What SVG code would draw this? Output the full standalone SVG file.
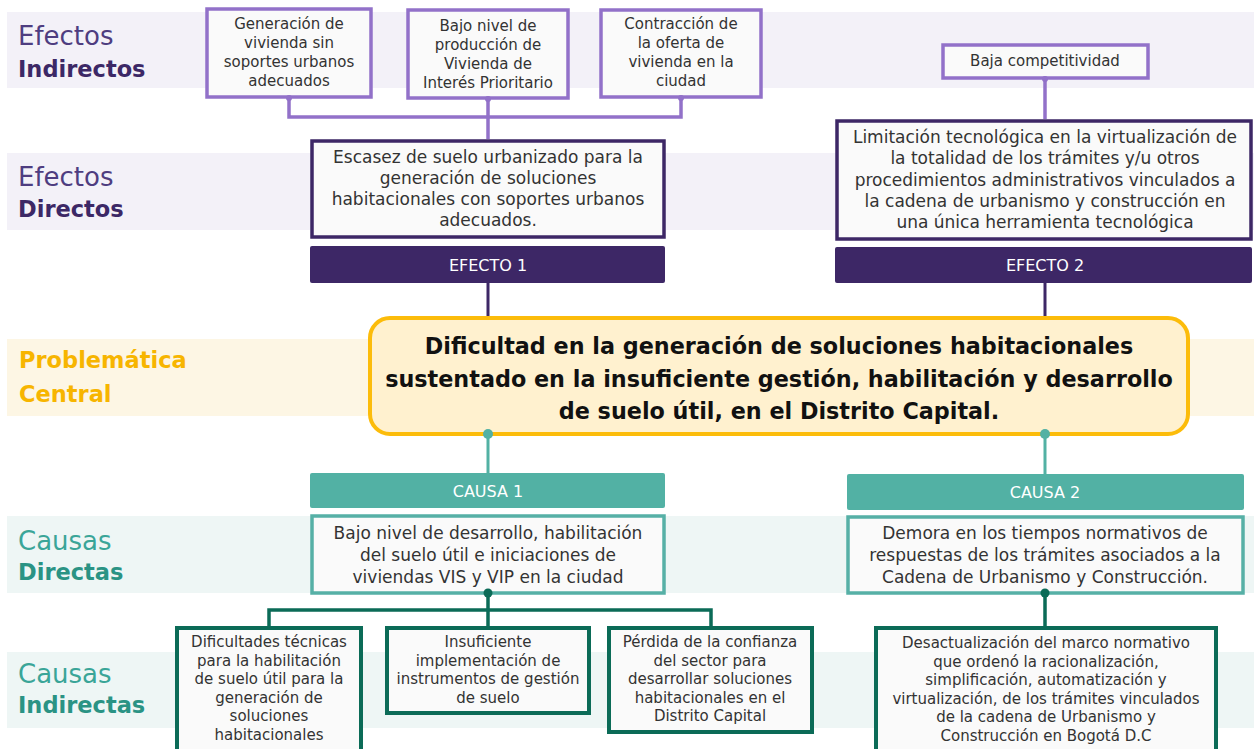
<svg xmlns="http://www.w3.org/2000/svg" width="1254" height="749" viewBox="0 0 1254 749">
<style>
text{font-family:"DejaVu Sans","Liberation Sans",sans-serif}
.band-p{fill:#f3f1f8}
.band-y{fill:#fdf6e4}
.band-g{fill:#eef6f5}
.lbl{font-size:26px}
.lblb{font-size:22.5px;font-weight:bold}
.box{fill:#fafafa}
.ei{stroke:#9271c9;stroke-width:3.5}
.ed{stroke:#3d2766;stroke-width:3.5}
.cd{stroke:#56b0a6;stroke-width:3.5}
.ci{stroke:#0b6b57;stroke-width:4}
.t{fill:#333;text-anchor:middle}
.s14{font-size:15px}
.s16{font-size:17px}
.bar-p{fill:#3d2766}
.bar-g{fill:#52b1a4}
.bt{fill:#fff;font-size:16px;text-anchor:middle}
.c-p{stroke:#9271c9;stroke-width:3.5;fill:none}
.c-d{stroke:#3d2766;stroke-width:3;fill:none}
.c-t{stroke:#52b1a4;stroke-width:3;fill:none}
.c-g{stroke:#0b6b57;stroke-width:3.5;fill:none}
</style>
<rect width="1254" height="749" fill="#fff"/>
<g id="bands">
<rect class="band-p" x="7" y="12" width="1247" height="76"/>
<rect class="band-p" x="7" y="153" width="1247" height="77"/>
<rect class="band-y" x="7" y="339" width="1247" height="77"/>
<rect class="band-g" x="7" y="516" width="1247" height="77"/>
<rect class="band-g" x="7" y="652" width="1247" height="76"/>
</g>
<g id="labels">
<text class="lbl" x="18" y="45" fill="#4e3d80">Efectos</text>
<text class="lblb" x="18" y="77" fill="#3c2866">Indirectos</text>
<text class="lbl" x="18" y="186" fill="#4e3d80">Efectos</text>
<text class="lblb" x="18" y="217" fill="#3c2866">Directos</text>
<text class="lblb" x="19" y="368" fill="#f7b500">Problemática</text>
<text class="lblb" x="19" y="402" fill="#f7b500">Central</text>
<text class="lbl" x="18" y="550" fill="#3aa598">Causas</text>
<text class="lblb" x="18" y="580" fill="#2a9384">Directas</text>
<text class="lbl" x="18" y="683" fill="#3aa598">Causas</text>
<text class="lblb" x="18" y="713" fill="#2a9384">Indirectas</text>
</g>
<g id="ei1">
<rect class="box ei" x="207" y="9" width="164" height="88"/>
<text class="t s14"><tspan x="289" y="29">Generación de</tspan><tspan x="289" y="48">vivienda sin</tspan><tspan x="289" y="67">soportes urbanos</tspan><tspan x="289" y="86">adecuados</tspan></text>
</g>
<g id="ei2">
<rect class="box ei" x="408" y="10" width="160" height="88"/>
<text class="t s14"><tspan x="488" y="31">Bajo nivel de</tspan><tspan x="488" y="50">producción de</tspan><tspan x="488" y="69">Vivienda de</tspan><tspan x="488" y="88">Interés Prioritario</tspan></text>
</g>
<g id="ei3">
<rect class="box ei" x="601" y="10" width="160" height="87"/>
<text class="t s14"><tspan x="681" y="29">Contracción de</tspan><tspan x="681" y="48">la oferta de</tspan><tspan x="681" y="67">vivienda en la</tspan><tspan x="681" y="86">ciudad</tspan></text>
</g>
<g id="ei4">
<rect class="box ei" x="943" y="45" width="205" height="33"/>
<text class="t s14" x="1045" y="66">Baja competitividad</text>
</g>
<g id="ed1">
<rect class="box ed" x="312" y="141" width="352" height="96"/>
<text class="t s16"><tspan x="488" y="163">Escasez de suelo urbanizado para la</tspan><tspan x="488" y="184">generación de soluciones</tspan><tspan x="488" y="205">habitacionales con soportes urbanos</tspan><tspan x="488" y="226">adecuados.</tspan></text>
</g>
<g id="ed2">
<rect class="box ed" x="837" y="121" width="414" height="118"/>
<text class="t s16"><tspan x="1045" y="143">Limitación tecnológica en la virtualización de</tspan><tspan x="1045" y="164">la totalidad de los trámites y/u otros</tspan><tspan x="1045" y="186">procedimientos administrativos vinculados a</tspan><tspan x="1045" y="207">la cadena de urbanismo y construcción en</tspan><tspan x="1045" y="228">una única herramienta tecnológica</tspan></text>
</g>
<g id="efecto1">
<rect class="bar-p" x="310" y="246" width="355" height="37" rx="2"/>
<text class="bt" x="488" y="271">EFECTO 1</text>
</g>
<g id="efecto2">
<rect class="bar-p" x="835" y="247" width="417" height="36" rx="2"/>
<text class="bt" x="1045" y="271">EFECTO 2</text>
</g>
<g id="central">
<rect x="370" y="318" width="818" height="116" rx="20" fill="#fff1cf" stroke="#fcbc0a" stroke-width="4"/>
<text fill="#111" font-size="22.3" font-weight="bold" text-anchor="middle"><tspan x="779" y="354">Dificultad en la generación de soluciones habitacionales</tspan><tspan x="779" y="387">sustentado en la insuficiente gestión, habilitación y desarrollo</tspan><tspan x="779" y="419">de suelo útil, en el Distrito Capital.</tspan></text>
</g>
<g id="causa1">
<rect class="bar-g" x="310" y="473" width="355" height="35" rx="2"/>
<text class="bt" x="488" y="497">CAUSA 1</text>
</g>
<g id="causa2">
<rect class="bar-g" x="847" y="474" width="397" height="36" rx="2"/>
<text class="bt" x="1045" y="498">CAUSA 2</text>
</g>
<g id="cd1">
<rect class="box cd" x="312" y="516" width="352" height="77"/>
<text class="t s16"><tspan x="488" y="539">Bajo nivel de desarrollo, habilitación</tspan><tspan x="488" y="561">del suelo útil e iniciaciones de</tspan><tspan x="488" y="583">viviendas VIS y VIP en la ciudad</tspan></text>
</g>
<g id="cd2">
<rect class="box cd" x="848" y="517" width="395" height="76"/>
<text class="t s16"><tspan x="1045" y="539">Demora en los tiempos normativos de</tspan><tspan x="1045" y="561">respuestas de los trámites asociados a la</tspan><tspan x="1045" y="583">Cadena de Urbanismo y Construcción.</tspan></text>
</g>
<g id="ci1">
<rect class="box ci" x="177" y="628" width="184" height="130"/>
<text class="t s14"><tspan x="269" y="647">Dificultades técnicas</tspan><tspan x="269" y="666">para la habilitación</tspan><tspan x="269" y="684">de suelo útil para la</tspan><tspan x="269" y="703">generación de</tspan><tspan x="269" y="721">soluciones</tspan><tspan x="269" y="740">habitacionales</tspan></text>
</g>
<g id="ci2">
<rect class="box ci" x="387" y="628" width="202" height="85"/>
<text class="t s14"><tspan x="488" y="647">Insuficiente</tspan><tspan x="488" y="666">implementación de</tspan><tspan x="488" y="684">instrumentos de gestión</tspan><tspan x="488" y="703">de suelo</tspan></text>
</g>
<g id="ci3">
<rect class="box ci" x="609" y="628" width="203" height="104"/>
<text class="t s14"><tspan x="710" y="647">Pérdida de la confianza</tspan><tspan x="710" y="666">del sector para</tspan><tspan x="710" y="684">desarrollar soluciones</tspan><tspan x="710" y="703">habitacionales en el</tspan><tspan x="710" y="721">Distrito Capital</tspan></text>
</g>
<g id="ci4">
<rect class="box ci" x="876" y="628" width="340" height="130"/>
<text class="t s14"><tspan x="1046" y="648">Desactualización del marco normativo</tspan><tspan x="1046" y="667">que ordenó la racionalización,</tspan><tspan x="1046" y="685">simplificación, automatización y</tspan><tspan x="1046" y="704">virtualización, de los trámites vinculados</tspan><tspan x="1046" y="722">de la cadena de Urbanismo y</tspan><tspan x="1046" y="741">Construcción en Bogotá D.C</tspan></text>
</g>
<g id="connectors">
<path class="c-p" d="M289 98 V117 H681 V98 M488 99 V139"/>
<path class="c-p" d="M1045 79 V119"/>
<circle cx="289" cy="98" r="3" fill="#9271c9"/>
<circle cx="488" cy="99" r="3" fill="#9271c9"/>
<circle cx="681" cy="98" r="3" fill="#9271c9"/>
<circle cx="1045" cy="79" r="3" fill="#9271c9"/>
<path class="c-d" d="M488 283 V316 M1045 283 V316"/>
<path class="c-t" d="M488 435 V473 M1045 435 V474"/>
<circle cx="488" cy="434" r="5" fill="#52b1a4"/>
<circle cx="1045" cy="434" r="5" fill="#52b1a4"/>
<path class="c-g" d="M488 593 V610 M269 626 V610 H711 V626 M488 610 V626 M1045 593 V626"/>
<circle cx="488" cy="593" r="4.5" fill="#0b6b57"/>
<circle cx="1045" cy="593" r="4.5" fill="#0b6b57"/>
</g>
</svg>
